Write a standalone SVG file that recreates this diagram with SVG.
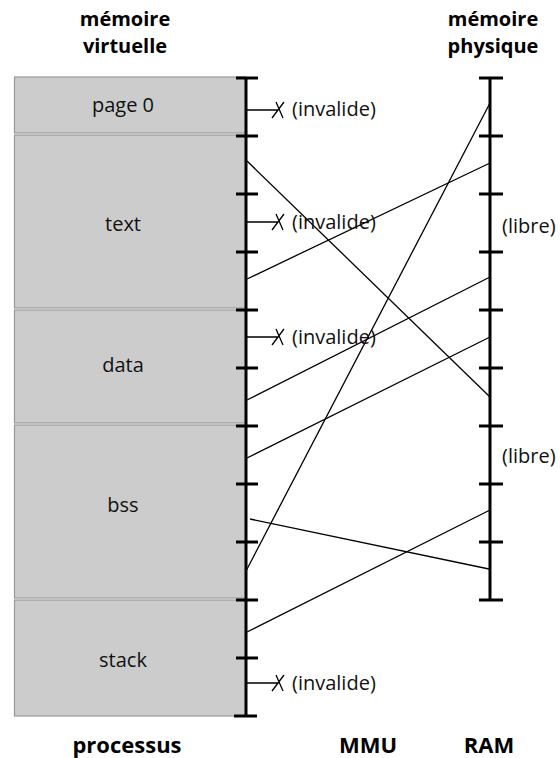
<svg xmlns="http://www.w3.org/2000/svg" width="560" height="758" viewBox="0 0 560 758">
<style>
.hdr{font-family:"Open Sans","Liberation Sans",sans-serif;font-weight:bold;font-size:20px;fill:#000;text-anchor:middle}
.ftr{font-family:"Open Sans","Liberation Sans",sans-serif;font-weight:bold;font-size:22px;fill:#000;text-anchor:middle}
.lbl{font-family:"Open Sans","Liberation Sans",sans-serif;font-size:20px;fill:#111;text-anchor:middle}
.note{font-family:"Open Sans","Liberation Sans",sans-serif;font-size:20px;fill:#111}
.box{fill:#cccccc;stroke:#999999;stroke-width:1.2}
.axis{stroke:#000;stroke-width:3;fill:none}
.conn{stroke:#000;stroke-width:1.3;fill:none}
</style>
<rect width="560" height="758" fill="#fff"/>
<g id="headers">
<text class="hdr" x="125" y="26">mémoire</text>
<text class="hdr" x="125" y="53">virtuelle</text>
<text class="hdr" x="493" y="26">mémoire</text>
<text class="hdr" x="493" y="53">physique</text>
</g>
<g id="page0"><rect class="box" x="14.5" y="77" width="231" height="56"/><text class="lbl" x="123" y="112">page 0</text></g>
<g id="text"><rect class="box" x="14.5" y="135" width="231" height="173"/><text class="lbl" x="123" y="231">text</text></g>
<g id="data"><rect class="box" x="14.5" y="310" width="231" height="113"/><text class="lbl" x="123" y="372">data</text></g>
<g id="bss"><rect class="box" x="14.5" y="425" width="231" height="173"/><text class="lbl" x="123" y="512">bss</text></g>
<g id="stack"><rect class="box" x="14.5" y="600" width="231" height="116"/><text class="lbl" x="123" y="667">stack</text></g>
<g id="mmu-axis">
<path class="axis" d="M246 78V716 M236 78H258 M236 136H258 M236 194H258 M236 252H258 M236 310H258 M236 368H258 M236 426H258 M236 484H258 M236 542H258 M236 600H258 M236 658H258 M234 716H257"/>
</g>
<g id="ram-axis">
<path class="axis" d="M490 78V600 M479 78H503 M479 136H503 M479 194H503 M479 252H503 M479 310H503 M479 368H503 M479 426H503 M479 484H503 M479 542H503 M479 600H503"/>
<text class="note" x="502" y="233">(libre)</text>
<text class="note" x="502" y="463">(libre)</text>
</g>
<g id="connectors">
<line class="conn" x1="246" y1="571" x2="490" y2="103"/>
<line class="conn" x1="247" y1="161" x2="490" y2="397"/>
<line class="conn" x1="247" y1="279" x2="490" y2="163"/>
<line class="conn" x1="247" y1="400" x2="490" y2="277"/>
<line class="conn" x1="247" y1="458" x2="490" y2="337"/>
<line class="conn" x1="250" y1="519" x2="489" y2="569"/>
<line class="conn" x1="247" y1="632" x2="490" y2="510"/>
</g>
<g id="invalid">
<path class="conn" d="M247 110H278 M272 118L284 102 M276 102L283 118"/>
<text class="note" x="292" y="116">(invalide)</text>
<path class="conn" d="M247 222H278 M272 230L284 214 M276 214L283 230"/>
<text class="note" x="292" y="229">(invalide)</text>
<path class="conn" d="M247 337H278 M272 345L284 329 M276 329L283 345"/>
<text class="note" x="292" y="344">(invalide)</text>
<path class="conn" d="M247 683H278 M272 691L284 675 M276 675L283 691"/>
<text class="note" x="292" y="690">(invalide)</text>
</g>
<g id="footers">
<text class="ftr" x="127" y="753">processus</text>
<text class="ftr" x="368" y="753">MMU</text>
<text class="ftr" x="489" y="753">RAM</text>
</g>
</svg>
